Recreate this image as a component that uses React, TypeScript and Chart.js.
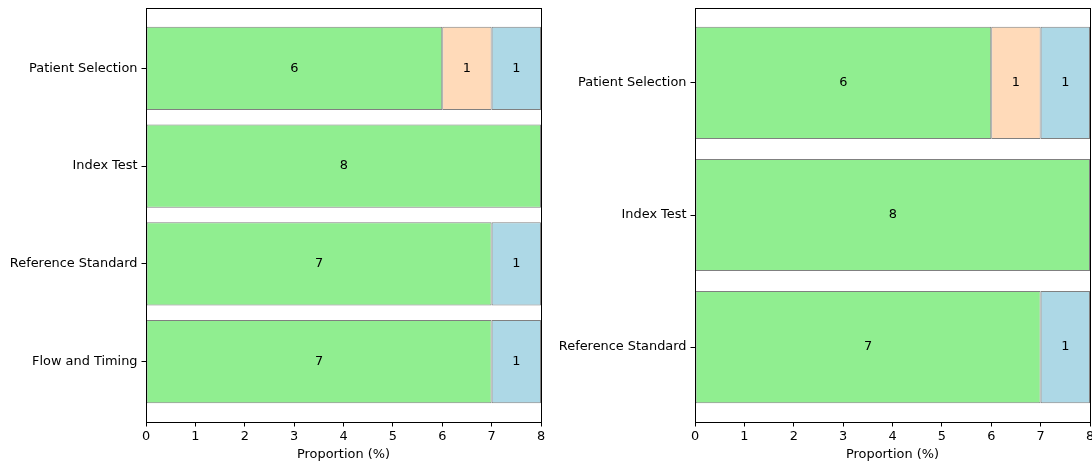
import React, { useEffect, useRef } from "react";
import { Chart, registerables } from "chart.js";

Chart.register(...registerables);

const leftCategories = ["Patient Selection", "Index Test", "Reference Standard", "Flow and Timing"];
const leftLow = [6, 8, 7, 7];
const leftHigh = [1, 0, 0, 0];
const leftUnclear = [1, 0, 1, 1];

const rightCategories = ["Patient Selection", "Index Test", "Reference Standard"];
const rightLow = [6, 8, 7];
const rightHigh = [1, 0, 0];
const rightUnclear = [1, 0, 1];

const xTickValues = [0, 1, 2, 3, 4, 5, 6, 7, 8];
const xTitle = "Proportion (%)";

const seriesNames = ["Low", "High", "Unclear"];
const seriesColors = ["#90EE90", "#FFDAB9", "#ADD8E6"];

const FONT = "'DejaVu Sans', sans-serif";
const FS = 12.9;

const framePlugin = {
  id: "frame",
  afterDatasetsDraw(chart: any) {
    const { ctx, chartArea } = chart;
    ctx.save();
    ctx.strokeStyle = "#000";
    ctx.lineWidth = 1;
    ctx.strokeRect(
      Math.round(chartArea.left) + 0.5,
      Math.round(chartArea.top) + 0.5,
      Math.round(chartArea.right - chartArea.left),
      Math.round(chartArea.bottom - chartArea.top)
    );
    ctx.restore();
  },
};

const valueLabelPlugin = {
  id: "valueLabels",
  afterDatasetsDraw(chart: any) {
    const { ctx } = chart;
    ctx.save();
    ctx.fillStyle = "#000";
    ctx.font = `${FS}px ${FONT}`;
    ctx.textAlign = "center";
    ctx.textBaseline = "middle";
    chart.data.datasets.forEach((ds: any, di: number) => {
      const meta = chart.getDatasetMeta(di);
      meta.data.forEach((el: any, i: number) => {
        const v = ds.data[i].x;
        if (!v) return;
        const cx = (el.x + el.base) / 2;
        ctx.fillText(String(v), cx, el.y);
      });
    });
    ctx.restore();
  },
};

function makeConfig(categories: string[], series: number[][], padRight: number, yWidth: number) {
  const n = categories.length;
  const barH = 0.85;
  const span = n - 1 + barH;
  const margin = 0.05 * span + barH / 2;
  return {
    type: "bar" as const,
    data: {
      datasets: series.map((vals, si) => ({
        label: seriesNames[si],
        data: vals
          .map((v, i) => ({ x: v, y: i }))
          .filter((p) => p.x !== 0),
        backgroundColor: seriesColors[si],
        borderColor: "#808080",
        borderWidth: 1,
        borderSkipped: false,
        barPercentage: barH,
        categoryPercentage: 1,
      })),
    },
    options: {
      indexAxis: "y" as const,
      animation: false as const,
      responsive: false,
      devicePixelRatio: 1,
      layout: { padding: { left: 0, right: padRight, top: 8, bottom: 0 } },
      plugins: { legend: { display: false }, tooltip: { enabled: false } },
      scales: {
        x: {
          type: "linear" as const,
          stacked: true,
          min: 0,
          max: 8,
          offset: false,
          afterBuildTicks(scale: any) {
            scale.ticks = xTickValues.map((v) => ({ value: v }));
          },
          afterFit(scale: any) {
            scale.height = 42;
            scale.paddingLeft = 0;
            scale.paddingRight = 0;
          },
          grid: {
            offset: false,
            drawOnChartArea: false,
            drawTicks: true,
            tickLength: 4.5,
            tickColor: "#000",
          },
          border: { display: false },
          ticks: {
            color: "#000",
            font: { family: FONT, size: FS },
            padding: 2,
            maxRotation: 0,
            autoSkip: false,
          },
          title: {
            display: true,
            text: xTitle,
            color: "#000",
            font: { family: FONT, size: FS },
            padding: { top: 0, bottom: 2 },
          },
        },
        y: {
          type: "linear" as const,
          stacked: true,
          reverse: true,
          offset: false,
          min: -margin,
          max: n - 1 + margin,
          afterBuildTicks(scale: any) {
            scale.ticks = categories.map((_, i) => ({ value: i }));
          },
          afterFit(scale: any) {
            scale.width = yWidth;
            scale.paddingTop = 0;
            scale.paddingBottom = 0;
          },
          grid: {
            offset: false,
            drawOnChartArea: false,
            drawTicks: true,
            tickLength: 4.5,
            tickColor: "#000",
          },
          border: { display: false },
          ticks: {
            color: "#000",
            font: { family: FONT, size: FS },
            padding: 4,
            autoSkip: false,
            callback: (v: any) => categories[v] ?? "",
          },
        },
      },
    },
    plugins: [valueLabelPlugin, framePlugin],
  };
}

function BarPanel(props: {
  categories: string[];
  series: number[][];
  left: number;
  width: number;
  padRight: number;
  yWidth: number;
}) {
  const ref = useRef<HTMLCanvasElement>(null);
  useEffect(() => {
    if (!ref.current) return;
    const chart = new Chart(
      ref.current,
      makeConfig(props.categories, props.series, props.padRight, props.yWidth) as any
    );
    return () => chart.destroy();
  }, []);
  return (
    <canvas
      ref={ref}
      width={props.width}
      height={464}
      style={{ position: "absolute", left: props.left, top: 0, width: props.width, height: 464 }}
    />
  );
}

export default function App() {
  return (
    <div style={{ position: "absolute", left: 0, top: 0, width: 1092, height: 464, background: "#fff", overflow: "hidden" }}>
      <BarPanel
        categories={leftCategories}
        series={[leftLow, leftHigh, leftUnclear]}
        left={0}
        width={546}
        padRight={5}
        yWidth={146}
      />
      <BarPanel
        categories={rightCategories}
        series={[rightLow, rightHigh, rightUnclear]}
        left={546}
        width={546}
        padRight={2}
        yWidth={149}
      />
    </div>
  );
}
